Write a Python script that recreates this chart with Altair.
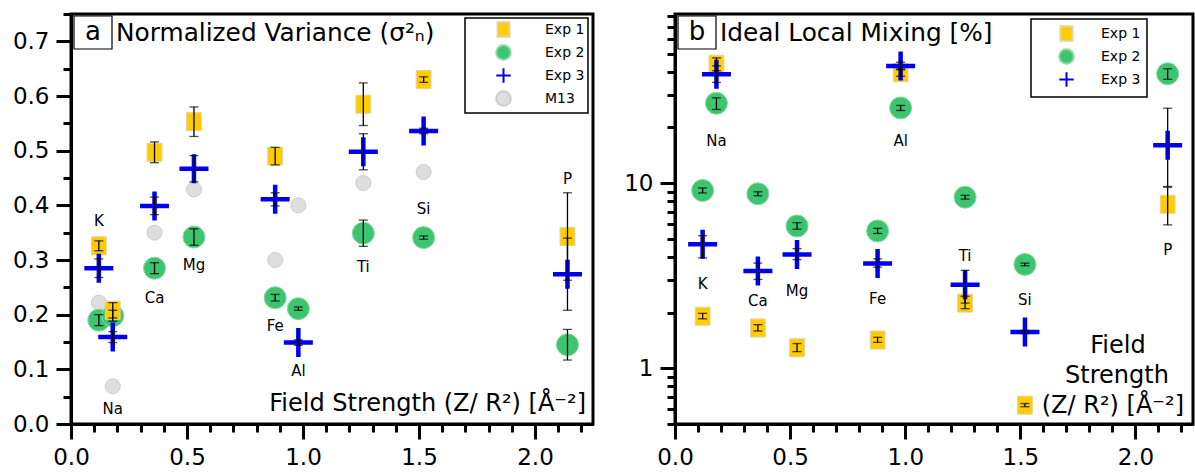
import altair as alt
import pandas as pd

ELEMENTS = ["K", "Na", "Ca", "Mg", "Fe", "Al", "Ti", "Si", "P"]
FIELD_STRENGTH = [0.12, 0.18, 0.36, 0.53, 0.88, 0.98, 1.26, 1.52, 2.14]

# (a) Normalized variance
VAR_EXP1 = [0.326, 0.208, 0.497, 0.553, 0.490, None, 0.585, 0.630, 0.343]
VAR_EXP1_ERR = [0.009, 0.014, 0.019, 0.027, 0.016, None, 0.039, 0.005, 0.080]
VAR_EXP2 = [0.190, 0.198, 0.285, 0.342, 0.231, 0.211, 0.349, 0.341, 0.145]
VAR_EXP2_ERR = [0.010, 0.010, 0.010, 0.015, 0.006, 0.003, 0.024, 0.003, 0.028]
VAR_EXP3 = [0.285, 0.159, 0.399, 0.467, 0.411, 0.149, 0.498, 0.536, 0.274]
VAR_EXP3_ERR = [0.017, 0.010, 0.016, 0.024, 0.012, 0.005, 0.033, 0.005, 0.066]
VAR_M13 = [0.222, 0.069, 0.350, 0.429, 0.300, 0.400, 0.441, 0.461, None]
VAR_LABEL_Y = [0.372, 0.027, 0.231, 0.290, 0.180, 0.097, 0.287, 0.394, 0.449]

# (b) Ideal local mixing [%]
MIX_EXP1 = [1.91, 43.9, 1.65, 1.29, 1.42, 39.5, 2.25, 0.632, 7.69]
MIX_EXP1_LO = [1.85, 40.5, 1.59, 1.23, 1.38, 37.8, 2.10, 0.620, 5.95]
MIX_EXP1_HI = [1.98, 47.5, 1.72, 1.36, 1.47, 41.3, 2.45, 0.645, 9.50]
MIX_EXP2 = [9.13, 27.0, 8.76, 5.87, 5.52, 25.5, 8.40, 3.64, 39.0]
MIX_EXP2_LO = [8.85, 25.0, 8.55, 5.64, 5.35, 24.7, 8.20, 3.58, 36.4]
MIX_EXP2_HI = [9.42, 28.9, 8.98, 6.12, 5.70, 26.3, 8.60, 3.70, 41.5]
MIX_EXP3 = [4.67, 38.7, 3.35, 4.12, 3.68, 43.0, 2.83, 1.57, 16.0]
MIX_EXP3_LO = [3.95, 35.0, 3.02, 3.86, 3.52, 41.0, 2.25, 1.54, 9.6]
MIX_EXP3_HI = [5.20, 43.0, 3.70, 4.43, 3.90, 45.0, 3.38, 1.60, 25.4]
MIX_LABEL_Y = [2.87, 16.8, 2.30, 2.61, 2.38, 16.8, 4.05, 2.33, 4.35]

SERIES = ["Exp 1", "Exp 2", "Exp 3", "M13"]
FILLS = ["#FFCC00", "#3DC46F", "#0000EE", "#DEDEDE"]
STROKES = ["#E3D39A", "#8AD9A6", "#0000EE", "#CCCCCC"]
SHAPES = ["M-0.82,-1H0.82V1H-0.82Z", "circle", "M-1,0H1M0,-1V1", "circle"]
SIZES = {"Exp 1": 324, "Exp 2": 484, "Exp 3": 841, "M13": 225}
STROKE_WIDTHS = {"Exp 1": 1, "Exp 2": 1, "Exp 3": 4.5, "M13": 1}
DRAW_ORDER = ["M13", "Exp 2", "Exp 1", "Exp 3"]

X_MAJOR = [0.0, 0.5, 1.0, 1.5, 2.0]
X_MINOR = [0.0, 0.1, 0.2, 0.3, 0.4, 0.5, 0.6, 0.7, 0.8, 0.9, 1.0, 1.1,
           1.2, 1.3, 1.4, 1.5, 1.6, 1.7, 1.8, 1.9, 2.0, 2.1, 2.2]
VAR_Y_MAJOR = [0.0, 0.1, 0.2, 0.3, 0.4, 0.5, 0.6, 0.7]
VAR_Y_MINOR = [0.0, 0.05, 0.1, 0.15, 0.2, 0.25, 0.3, 0.35, 0.4, 0.45,
               0.5, 0.55, 0.6, 0.65, 0.7, 0.75]
MIX_Y_MAJOR = [1, 10]
MIX_Y_MINOR = [0.5, 0.6, 0.7, 0.8, 0.9, 1, 2, 3, 4, 5, 6, 7, 8, 9,
               10, 20, 30, 40, 50, 60, 70, 80]

FONT = "DejaVu Sans"


def sym(values, errs):
    lo = [None if (v is None or e is None) else v - e for v, e in zip(values, errs)]
    hi = [None if (v is None or e is None) else v + e for v, e in zip(values, errs)]
    return lo, hi


def long_table(series_list):
    rows = []
    for name, values, lows, highs in series_list:
        for el, x, v, lo, hi in zip(ELEMENTS, FIELD_STRENGTH, values, lows, highs):
            if v is None:
                continue
            rows.append({"element": el, "x": x, "series": name, "value": v,
                         "lo": lo, "hi": hi})
    return pd.DataFrame(rows)


none9 = [None] * 9
df_a = long_table([
    ("M13", VAR_M13, none9, none9),
    ("Exp 2", VAR_EXP2, *sym(VAR_EXP2, VAR_EXP2_ERR)),
    ("Exp 1", VAR_EXP1, *sym(VAR_EXP1, VAR_EXP1_ERR)),
    ("Exp 3", VAR_EXP3, *sym(VAR_EXP3, VAR_EXP3_ERR)),
])
df_b = long_table([
    ("Exp 2", MIX_EXP2, MIX_EXP2_LO, MIX_EXP2_HI),
    ("Exp 1", MIX_EXP1, MIX_EXP1_LO, MIX_EXP1_HI),
    ("Exp 3", MIX_EXP3, MIX_EXP3_LO, MIX_EXP3_HI),
])
lab_a = pd.DataFrame({"element": ELEMENTS, "x": FIELD_STRENGTH, "y": VAR_LABEL_Y})
lab_b = pd.DataFrame({"element": ELEMENTS, "x": FIELD_STRENGTH, "y": MIX_LABEL_Y})


def axis(values, major, orient, fmt=None):
    kw = dict(values=values, orient=orient, title=None, grid=False,
              domainColor="black", domainWidth=3, tickColor="black", tickWidth=3)
    if major:
        kw.update(tickSize=15, labels=True, labelFont=FONT, labelFontSize=23,
                  labelColor="black", labelPadding=7, labelOverlap=False,
                  labelFlush=False)
        if fmt:
            kw["format"] = fmt
    else:
        kw.update(tickSize=8, labels=False)
    return alt.Axis(**kw)


def panel(df, labels_df, log, ydomain, ymajor, yminor, yfmt, n_series,
          legend_kw, letter, title_text, fs_texts, width, height):
    xs = alt.Scale(domain=[0, 2.25], nice=False, zero=False)
    if log:
        ys = alt.Scale(type="log", domain=ydomain, nice=False)
    else:
        ys = alt.Scale(domain=ydomain, nice=False, zero=False)
    dom = SERIES[:n_series]
    leg = alt.Legend(title=None, orient="none", strokeColor="black",
                     fillColor="white", symbolSize=210, symbolStrokeWidth=2,
                     labelFont=FONT, labelFontSize=14, labelColor="black",
                     labelExpr="datum.label + ' '", rowPadding=0,
                     symbolOpacity=1, **legend_kw)
    point_layers = []
    first = True
    for s in DRAW_ORDER:
        if s not in dom:
            continue
        sub = df[df["series"] == s]
        point_layers.append(
            alt.Chart(sub).mark_point(filled=True, opacity=1, size=SIZES[s],
                                      strokeWidth=STROKE_WIDTHS[s]).encode(
                x=alt.X("x:Q", scale=xs,
                        axis=axis(X_MAJOR, True, "bottom", ".1f") if first else None),
                y=alt.Y("value:Q", scale=ys,
                        axis=axis(ymajor, True, "left", yfmt) if first else None),
                fill=alt.Fill("series:N", scale=alt.Scale(domain=dom, range=FILLS[:n_series]), legend=leg),
                stroke=alt.Stroke("series:N", scale=alt.Scale(domain=dom, range=STROKES[:n_series]), legend=leg),
                shape=alt.Shape("series:N", scale=alt.Scale(domain=dom, range=SHAPES[:n_series]), legend=leg),
            ))
        first = False
    err = df[df["lo"].notna()]
    rules = alt.Chart(err).mark_rule(color="black", strokeWidth=1.3).encode(
        x=alt.X("x:Q", scale=xs, axis=axis(X_MINOR, False, "bottom")),
        y=alt.Y("lo:Q", scale=ys, axis=axis(yminor, False, "left")),
        y2="hi:Q",
    )
    caps_lo = alt.Chart(err).mark_tick(orient="horizontal", color="black", size=9, thickness=1.3).encode(
        x=alt.X("x:Q", scale=xs, axis=None),
        y=alt.Y("lo:Q", scale=ys, axis=None),
    )
    caps_hi = alt.Chart(err).mark_tick(orient="horizontal", color="black", size=9, thickness=1.3).encode(
        x=alt.X("x:Q", scale=xs, axis=None),
        y=alt.Y("hi:Q", scale=ys, axis=None),
    )
    labels = alt.Chart(labels_df).mark_text(font=FONT, fontSize=15, color="black").encode(
        x=alt.X("x:Q", scale=xs, axis=None),
        y=alt.Y("y:Q", scale=ys, axis=None),
        text="element:N",
    )
    one = pd.DataFrame({"k": [0]})
    box = alt.Chart(one).mark_rect(fill="white", stroke="black", strokeWidth=1.2).encode(
        x=alt.value(3), x2=alt.value(41), y=alt.value(2), y2=alt.value(35))
    letter_t = alt.Chart(one).mark_text(text=letter, font=FONT, fontSize=26, color="black",
                                        align="center", baseline="middle").encode(
        x=alt.value(22), y=alt.value(18))
    title_t = alt.Chart(one).mark_text(text=title_text, font=FONT, fontSize=24.8, color="black",
                                       align="left", baseline="middle").encode(
        x=alt.value(45), y=alt.value(20))
    fs_layers = []
    for txt, xpos, ypos, al in fs_texts:
        fs_layers.append(alt.Chart(one).mark_text(text=txt, font=FONT, fontSize=24, color="black",
                                                  align=al, baseline="middle").encode(
            x=alt.value(xpos), y=alt.value(ypos)))
    return alt.layer(*point_layers, rules, caps_lo, caps_hi, labels, box, letter_t, title_t,
                     *fs_layers).resolve_axis(x="independent", y="independent").properties(
        width=width, height=height)


pa = panel(df_a, lab_a, False, [0, 0.75], VAR_Y_MAJOR, VAR_Y_MINOR, ".1f", 4,
           dict(legendX=394, legendY=4, padding=3, symbolOffset=27, labelOffset=33),
           "a", "Normalized Variance (σ²ₙ)",
           [("Field Strength (Z/ R²) [Å⁻²]", 515, 390, "right")], 522, 410)
pb = panel(df_b, lab_b, True, [0.5, 82], MIX_Y_MAJOR, MIX_Y_MINOR, "d", 3,
           dict(legendX=356, legendY=5, padding=6, symbolOffset=21, labelOffset=26),
           "b", "Ideal Local Mixing [%]",
           [("Field", 443, 332, "center"), ("Strength", 442, 362, "center"),
            ("(Z/ R²) [Å⁻²]", 509, 392, "right")], 518, 410)

chart = alt.hconcat(pa, pb, spacing=27).resolve_scale(
    fill="independent", stroke="independent", shape="independent").properties(
    padding={"left": 10, "top": 11, "right": 0, "bottom": 0}
).configure_view(stroke="black", strokeWidth=3).configure_legend(strokeWidth=1.5)

chart.save("out.html", embed_options={"renderer": "svg", "actions": False})
